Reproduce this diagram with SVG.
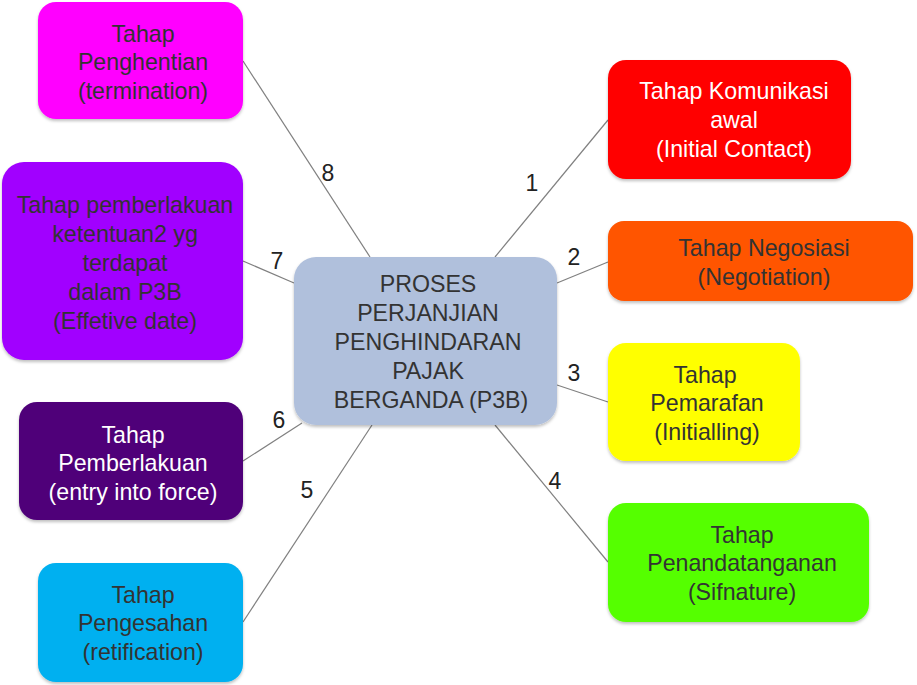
<svg xmlns="http://www.w3.org/2000/svg" width="917" height="685" viewBox="0 0 917 685">
<defs>
<style>
.box{filter:url(#sh)}
text{font-family:"Liberation Sans",Arial,sans-serif;font-size:23.2px;text-anchor:middle;fill:#333333}
.w{fill:#ffffff}
.num{font-size:23px;fill:#222222}
.con line{stroke:#808080;stroke-width:1.2}
</style>
<filter id="sh" x="-5%" y="-5%" width="110%" height="115%">
<feDropShadow dx="0" dy="2" stdDeviation="1.5" flood-color="#000" flood-opacity="0.25"/>
</filter>
</defs>
<rect width="917" height="685" fill="#ffffff"/>
<g class="con" id="connectors">
<line x1="495" y1="257" x2="608" y2="120"/>
<line x1="557" y1="283" x2="608" y2="262"/>
<line x1="557" y1="385" x2="608" y2="402"/>
<line x1="495" y1="425" x2="608" y2="562"/>
<line x1="372" y1="425" x2="243" y2="622"/>
<line x1="302" y1="423" x2="243" y2="461"/>
<line x1="294" y1="283" x2="243" y2="261"/>
<line x1="370" y1="257" x2="243" y2="61"/>
<text class="num" x="532" y="191">1</text>
<text class="num" x="574" y="265">2</text>
<text class="num" x="574" y="381">3</text>
<text class="num" x="555" y="489">4</text>
<text class="num" x="307" y="498">5</text>
<text class="num" x="279" y="428">6</text>
<text class="num" x="277" y="269">7</text>
<text class="num" x="328" y="181">8</text>
</g>
<g id="center">
<rect class="box" x="294" y="257" width="263" height="168" rx="22" fill="#B0C0DC"/>
<text x="428" y="292">PROSES</text>
<text x="428" y="321">PERJANJIAN</text>
<text x="428" y="350">PENGHINDARAN</text>
<text x="428" y="379">PAJAK</text>
<text x="431" y="408">BERGANDA (P3B)</text>
</g>
<g id="n1">
<rect class="box" x="608" y="60" width="243" height="119" rx="18" fill="#FF0000"/>
<text class="w" x="734" y="99">Tahap Komunikasi</text>
<text class="w" x="734" y="128">awal</text>
<text class="w" x="734" y="157">(Initial Contact)</text>
</g>
<g id="n2">
<rect class="box" x="608" y="221" width="305" height="80" rx="16" fill="#FF5500"/>
<text x="764" y="256">Tahap Negosiasi</text>
<text x="764" y="285">(Negotiation)</text>
</g>
<g id="n3">
<rect class="box" x="608" y="343" width="192" height="118" rx="18" fill="#FFFF00"/>
<text x="705" y="383">Tahap</text>
<text x="707" y="411">Pemarafan</text>
<text x="707" y="440">(Initialling)</text>
</g>
<g id="n4">
<rect class="box" x="608" y="503" width="261" height="119" rx="18" fill="#55FF00"/>
<text x="742" y="543">Tahap</text>
<text x="742" y="571">Penandatanganan</text>
<text x="742" y="600">(Sifnature)</text>
</g>
<g id="n5">
<rect class="box" x="38" y="563" width="205" height="119" rx="18" fill="#00B0F0"/>
<text x="143" y="603">Tahap</text>
<text x="143" y="631">Pengesahan</text>
<text x="143" y="660">(retification)</text>
</g>
<g id="n6">
<rect class="box" x="19" y="402" width="224" height="118" rx="18" fill="#4F0079"/>
<text class="w" x="133" y="443">Tahap</text>
<text class="w" x="133" y="471">Pemberlakuan</text>
<text class="w" x="133" y="500">(entry into force)</text>
</g>
<g id="n7">
<rect class="box" x="2" y="162" width="241" height="198" rx="22" fill="#A100FF"/>
<text x="125" y="213">Tahap pemberlakuan</text>
<text x="125" y="242">ketentuan2 yg</text>
<text x="125" y="271">terdapat</text>
<text x="125" y="300">dalam P3B</text>
<text x="125" y="329">(Effetive date)</text>
</g>
<g id="n8">
<rect class="box" x="38" y="2" width="205" height="117" rx="18" fill="#FF00FF"/>
<text x="143" y="42">Tahap</text>
<text x="143" y="70">Penghentian</text>
<text x="143" y="99">(termination)</text>
</g>
</svg>
